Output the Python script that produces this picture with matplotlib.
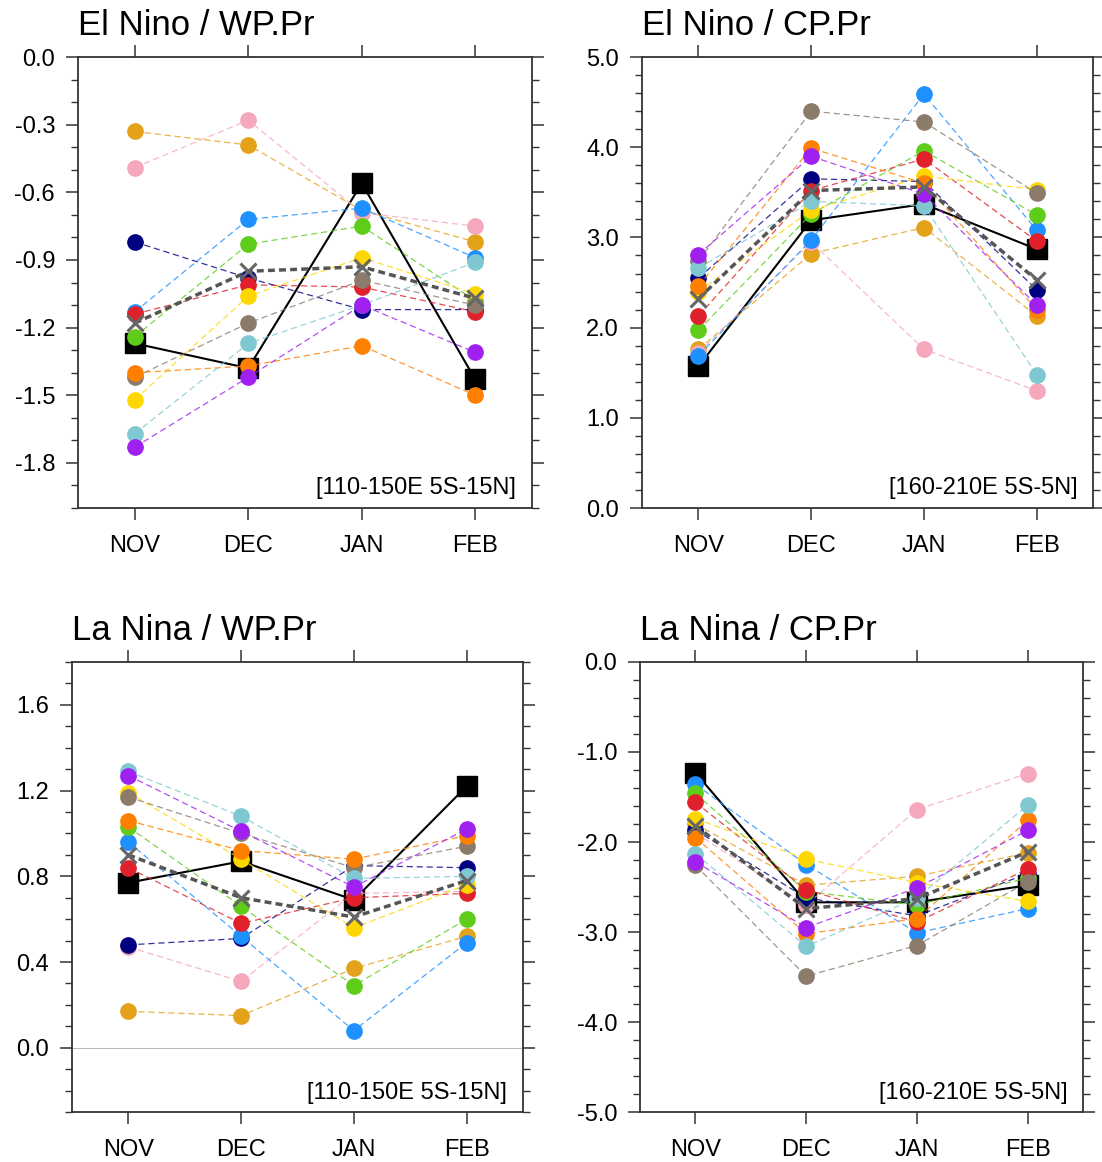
import numpy as np
import matplotlib
matplotlib.use('Agg')
import matplotlib.pyplot as plt
from matplotlib.colors import to_rgba
from matplotlib.ticker import MultipleLocator, FormatStrFormatter

plt.rcParams['font.family'] = ['Liberation Sans', 'DejaVu Sans']

months = ['NOV', 'DEC', 'JAN', 'FEB']

model_colors = ['#E3A21A', '#F5A8BC', '#000080', '#1E90FF', '#5FCC1A', '#E0202A',
                '#FFD700', '#8B7B6B', '#FF7F00', '#7FC8D2', '#A020F0']

# El Nino / WP.Pr
elnino_wp = [
    [-0.33, -0.39, -0.68, -0.82],
    [-0.49, -0.28, -0.69, -0.75],
    [-0.82, -0.98, -1.12, -1.12],
    [-1.13, -0.72, -0.67, -0.89],
    [-1.24, -0.83, -0.75, -1.08],
    [-1.14, -1.01, -1.02, -1.13],
    [-1.52, -1.06, -0.89, -1.05],
    [-1.42, -1.18, -0.99, -1.10],
    [-1.40, -1.37, -1.28, -1.50],
    [-1.67, -1.27, -1.10, -0.91],
    [-1.73, -1.42, -1.10, -1.31],
]
elnino_wp_mme = [-1.18, -0.95, -0.93, -1.07]
elnino_wp_obs = [-1.27, -1.38, -0.56, -1.43]

# El Nino / CP.Pr
elnino_cp = [
    [1.76, 2.82, 3.11, 2.13],
    [1.72, 2.95, 1.76, 1.30],
    [2.55, 3.65, 3.62, 2.42],
    [1.69, 2.97, 4.59, 3.08],
    [1.97, 3.26, 3.96, 3.25],
    [2.13, 3.52, 3.87, 2.96],
    [2.40, 3.30, 3.68, 3.53],
    [2.74, 4.40, 4.28, 3.49],
    [2.46, 3.99, 3.60, 2.20],
    [2.66, 3.40, 3.35, 1.48],
    [2.81, 3.90, 3.48, 2.25],
]
elnino_cp_mme = [2.32, 3.52, 3.56, 2.53]
elnino_cp_obs = [1.57, 3.19, 3.37, 2.87]

# La Nina / WP.Pr
lanina_wp = [
    [0.17, 0.15, 0.37, 0.52],
    [0.47, 0.31, 0.72, 0.73],
    [0.48, 0.51, 0.85, 0.84],
    [0.96, 0.52, 0.08, 0.49],
    [1.03, 0.66, 0.29, 0.60],
    [0.84, 0.58, 0.70, 0.72],
    [1.19, 0.88, 0.56, 0.76],
    [1.17, 1.00, 0.84, 0.94],
    [1.06, 0.92, 0.88, 0.99],
    [1.29, 1.08, 0.79, 0.80],
    [1.27, 1.01, 0.75, 1.02],
]
lanina_wp_mme = [0.90, 0.70, 0.61, 0.78]
lanina_wp_obs = [0.77, 0.87, 0.69, 1.22]

# La Nina / CP.Pr
lanina_cp = [
    [-1.80, -2.48, -2.38, -2.12],
    [-1.90, -2.70, -1.64, -1.24],
    [-1.87, -2.62, -2.82, -2.35],
    [-1.36, -2.25, -3.01, -2.74],
    [-1.46, -2.55, -2.70, -2.40],
    [-1.56, -2.53, -2.89, -2.30],
    [-1.74, -2.19, -2.45, -2.66],
    [-2.26, -3.49, -3.15, -2.44],
    [-1.95, -3.02, -2.85, -1.76],
    [-2.13, -3.16, -2.62, -1.59],
    [-2.22, -2.95, -2.51, -1.87],
]
lanina_cp_mme = [-1.82, -2.74, -2.63, -2.11]
lanina_cp_obs = [-1.23, -2.67, -2.67, -2.48]

panels = [
    dict(title='El Nino / WP.Pr', models=elnino_wp, mme=elnino_wp_mme, obs=elnino_wp_obs,
         ylim=(-2.0, 0.0), major=0.3, minor=0.1, region='[110-150E 5S-15N]',
         rect=[0.0708, 0.5628, 0.412, 0.3881], zero=False),
    dict(title='El Nino / CP.Pr', models=elnino_cp, mme=elnino_cp_mme, obs=elnino_cp_obs,
         ylim=(0.0, 5.0), major=1.0, minor=0.2, region='[160-210E 5S-5N]',
         rect=[0.5826, 0.5628, 0.4093, 0.3881], zero=False),
    dict(title='La Nina / WP.Pr', models=lanina_wp, mme=lanina_wp_mme, obs=lanina_wp_obs,
         ylim=(-0.3, 1.8), major=0.4, minor=0.1, region='[110-150E 5S-15N]',
         rect=[0.0653, 0.0430, 0.4093, 0.3873], zero=True),
    dict(title='La Nina / CP.Pr', models=lanina_cp, mme=lanina_cp_mme, obs=lanina_cp_obs,
         ylim=(-5.0, 0.0), major=1.0, minor=0.2, region='[160-210E 5S-5N]',
         rect=[0.5808, 0.0430, 0.402, 0.3873], zero=False),
]

fig = plt.figure(figsize=(11.02, 11.62), dpi=100)
x = np.arange(len(months))

for p in panels:
    ax = fig.add_axes(p['rect'])
    if p['zero']:
        ax.axhline(0.0, color='#bbbbbb', lw=0.8, zorder=1)

    ax.plot(x, p['obs'], color='black', lw=1.5, marker='s', ms=14,
            mfc='black', mec='black', zorder=2)
    for vals, c in zip(p['models'], model_colors):
        ax.plot(x, vals, color=to_rgba(c, 0.8), lw=0.9, ls=(0, (5, 3)), marker='o', ms=11,
                mfc=c, mec=c, zorder=3)
    ax.plot(x, p['mme'], color='#555555', lw=2.5, ls=(0, (2.0, 1.2)), marker='x',
            ms=12, mew=2.2, mec='#666666', zorder=4)

    ax.set_xlim(-0.5, 3.5)
    ax.set_ylim(*p['ylim'])
    ax.set_xticks(x)
    ax.set_xticklabels(months)
    ax.yaxis.set_major_locator(MultipleLocator(p['major']))
    ax.yaxis.set_minor_locator(MultipleLocator(p['minor']))
    ax.yaxis.set_major_formatter(FormatStrFormatter('%.1f'))
    ax.tick_params(axis='both', which='major', direction='out', length=8.5, width=1.1,
                   color='#333333', labelsize=17, top=True, right=True)
    ax.tick_params(axis='x', which='major', pad=11)
    ax.tick_params(axis='y', which='major', pad=8)
    ax.tick_params(axis='y', which='minor', direction='out', length=5, width=1.0,
                   color='#333333', right=True)
    for s in ax.spines.values():
        s.set_linewidth(1.3)
        s.set_color('#333333')

    ax.text(0.965, 0.03, p['region'], transform=ax.transAxes, ha='right', va='baseline',
            fontsize=17)
    ax.annotate(p['title'], xy=(0, 1), xycoords='axes fraction', xytext=(0, 16),
                textcoords='offset points', ha='left', va='baseline', fontsize=25)

fig.savefig('out.png', dpi=100)
